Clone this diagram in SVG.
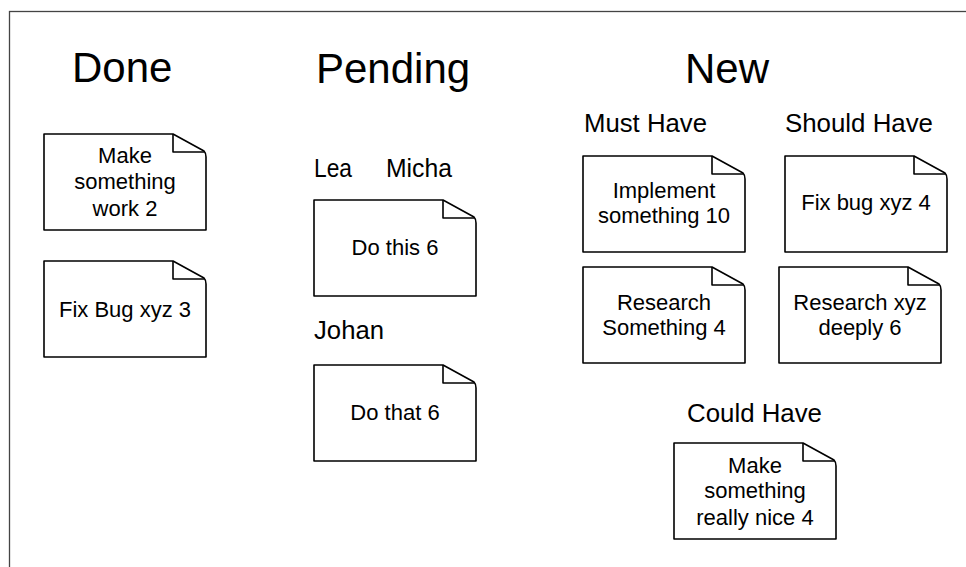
<svg xmlns="http://www.w3.org/2000/svg" width="966" height="567" viewBox="0 0 966 567">
<style>
.note{fill:#fff;stroke:#000;stroke-width:1.6;stroke-linejoin:round}
.fold{fill:none;stroke:#000;stroke-width:1.6;stroke-linejoin:round}
text{font-family:"Liberation Sans",Arial,Helvetica,sans-serif;fill:#000}
.h1{font-size:42px}
.h2{font-size:25px}
.t{font-size:22px;text-anchor:middle}
</style>
<defs>
<g id="card">
<path class="note" d="M0,0 H129 L160,17 Q162,19 162,23 V96 H0 Z"/>
<path class="fold" d="M129,0 V18 H160"/>
</g>
</defs>
<rect x="9.5" y="11.5" width="1000" height="600" fill="#fff" stroke="#444" stroke-width="1.3"/>
<g id="headings">
<text class="h1" x="72" y="82">Done</text>
<text class="h1" x="316" y="83">Pending</text>
<text class="h1" x="685" y="83">New</text>
<text class="h2" x="584" y="132" textLength="123" lengthAdjust="spacingAndGlyphs">Must Have</text>
<text class="h2" x="785" y="132" textLength="148" lengthAdjust="spacingAndGlyphs">Should Have</text>
<text class="h2" x="314" y="177" textLength="38" lengthAdjust="spacingAndGlyphs">Lea</text>
<text class="h2" x="386" y="177" textLength="66" lengthAdjust="spacingAndGlyphs">Micha</text>
<text class="h2" x="314" y="339" textLength="70" lengthAdjust="spacingAndGlyphs">Johan</text>
<text class="h2" x="687" y="422" textLength="135" lengthAdjust="spacingAndGlyphs">Could Have</text>
</g>
<g id="n1" transform="translate(44,134)"><use href="#card"/>
<text class="t" x="81" y="29">Make</text><text class="t" x="81" y="55">something</text><text class="t" x="81" y="82">work 2</text></g>
<g id="n2" transform="translate(44,261)"><use href="#card"/>
<text class="t" x="81" y="56">Fix Bug xyz 3</text></g>
<g id="n3" transform="translate(314,200)"><use href="#card"/>
<text class="t" x="81" y="55">Do this 6</text></g>
<g id="n4" transform="translate(314,365)"><use href="#card"/>
<text class="t" x="81" y="55">Do that 6</text></g>
<g id="n5" transform="translate(583,156)"><use href="#card"/>
<text class="t" x="81" y="42">Implement</text><text class="t" x="81" y="67">something 10</text></g>
<g id="n6" transform="translate(785,156)"><use href="#card"/>
<text class="t" x="81" y="54">Fix bug xyz 4</text></g>
<g id="n7" transform="translate(583,267)"><use href="#card"/>
<text class="t" x="81" y="43">Research</text><text class="t" x="81" y="68">Something 4</text></g>
<g id="n8" transform="translate(779,267)"><use href="#card"/>
<text class="t" x="81" y="43">Research xyz</text><text class="t" x="81" y="68">deeply 6</text></g>
<g id="n9" transform="translate(674,443)"><use href="#card"/>
<text class="t" x="81" y="30">Make</text><text class="t" x="81" y="55">something</text><text class="t" x="81" y="82">really nice 4</text></g>
<g id="connectors"></g>
</svg>
